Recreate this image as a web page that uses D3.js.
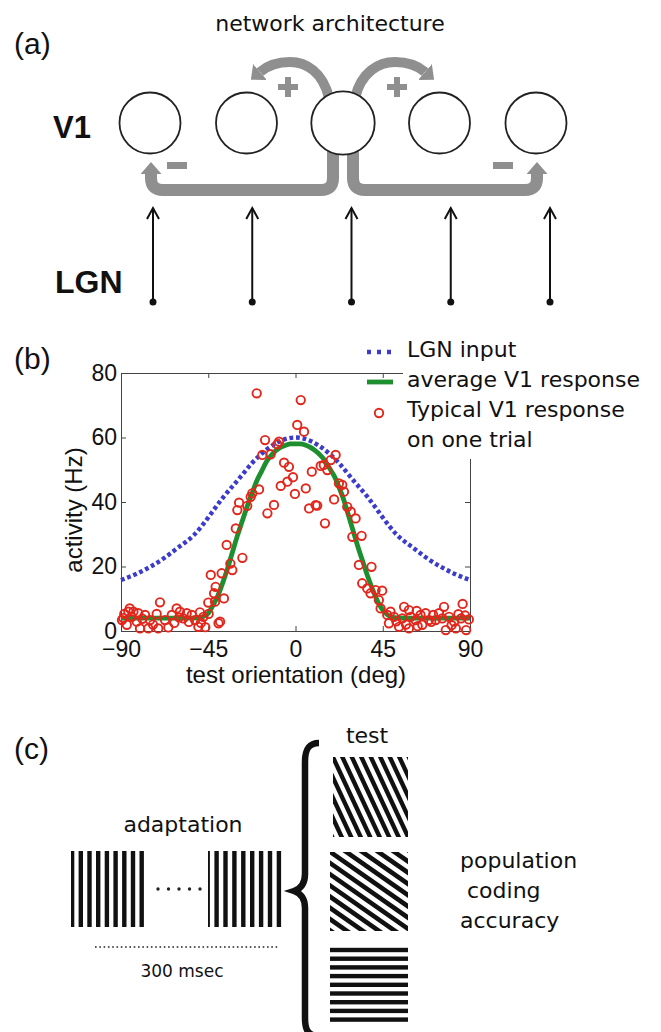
<!DOCTYPE html>
<meta charset="utf-8">
<title>V1 network, tuning and adaptation</title>
<style>
body { margin: 0; background: #fff; }
svg { display: block; }
.lbl { font-family: "DejaVu Sans", sans-serif; fill: #111; }
.big { font-family: "Liberation Sans", Arial, sans-serif; fill: #111; }
.ax text { font-family: "Liberation Sans", Arial, sans-serif; font-size: 23px; fill: #111; }
.ax path, .ax line { stroke: #444; stroke-width: 1; }
</style>
<body>
<script src="https://d3js.org/d3.v7.min.js"></script>
<script>

// ---- data ----
var neuronIds = [-2, -1, 0, 1, 2];

var xTicks = [-90, -45, 0, 45, 90];
var yTicks = [0, 20, 40, 60, 80];

// LGN input (blue dotted)
var lgnOrient = [-90, -82.5, -75, -67.5, -60, -52.5, -45, -37.5, -30, -22.5, -15, -7.5, 0,
                 7.5, 15, 22.5, 30, 37.5, 45, 52.5, 60, 67.5, 75, 82.5, 90];
var lgnRate   = [15.8, 17.6, 19.9, 22.7, 26.1, 29.7, 35.2, 41.3, 46.6, 52, 56.2, 59, 60,
                 59, 56.2, 52, 46.6, 41.3, 35.2, 29.7, 26.1, 22.7, 19.9, 17.6, 15.8];

// average V1 response (green)
var avgOrient = [-90, -75, -60, -52.5, -47.5, -45, -42.5, -40, -37.5, -35, -32.5, -30, -27.5, -25,
                 -22.5, -20, -17.5, -15, -12.5, -10, -7.5, -5, -2.5, 0, 2.5, 5, 7.5, 10, 12.5, 15,
                 17.5, 20, 22.5, 25, 27.5, 30, 32.5, 35, 37.5, 40, 42.5, 45, 47.5, 50, 55, 60, 75, 90];
var avgRate   = [4, 4, 4, 4, 4.5, 5.5, 8, 11, 15, 19.5, 24.5, 29.5, 34, 38.5,
                 42.5, 46.5, 49.5, 52.5, 54.5, 56, 57, 57.6, 58, 58, 58, 57.7, 57, 56, 54.7, 53,
                 50.5, 48, 44.5, 40.5, 35.5, 30.5, 25.5, 21, 16.5, 12.5, 9, 6.5, 5, 4.2, 4, 4, 4, 4];

// one trial (red circles)
var trialOrient = [-89.5, -88.3, -86.2, -83.6, -87, -84.5, -81.1, -81.9, -77.6, -80.2, -75.9, -75,
  -71.6, -69.9, -70.8, -67.3, -65.6, -63.8, -61.3, -59.6, -57.9, -56.1, -53.5, -51.8, -50.1, -47.5,
  -45, -41.5, -38.9, -85.5, -88.8, -79, -73.5, -62.5, -60, -55, -48.8, -46.5, -44.8, -49.3,
  -43.7, -38.1, -42, -41.2, -36.9, -39.7, -33.6, -35.5, -32.6, -27.4, -30.8, -30, -29.1, -24.9,
  -23.1, -22.3, -18.8, -14.5, -11.1,
  -20, 2.7, 0.9, 4.4, -15.7, -8.5, -9.4, -17.1, -12.8, -5.9, -3.4, -1.3, -4.2, -7.6, -0.3, 5.3,
  8.4, 13, 16.4, 18.2, 20.7, 7, 10.4, 11.2, 15.2, 19.9, 14.6,
  22.4, 24.1, 25, 26.7, 28.5, 31, 29.3, 34.1, 32.7, 39.2, 34.4, 37, 38.7, 41.3, 44.7, 43, 43.9,
  47.3, 49, 50.8, 48.2, 53.4, 55.1, 56, 58.5, 59.4, 58.5, 61.9, 64.5, 67.1, 68.8, 65.4, 72.3,
  76.6, 75.7, 77.5, 79.2, 81.8, 82.7, 86.2, 85.4, 88, 89.4,
  52, 57, 63, 70, 74, 84, 80.5, 87.5, 62.5, 71];
var trialRate = [3.4, 5.3, 6, 6, 1.9, 4.4, 5.5, 2.9, 5, 0.8, 0.8, 3.4,
  5.3, 8.9, 0.8, 3.4, 1.1, 5, 7, 6, 3.9, 5.5, 5, 3.4, 1.3, 4.4,
  8.8, 9.1, 2.9, 7, 4, 3.8, 2, 2.5, 4.2, 2.8, 2.5, 1.2, 5.3, 5.8,
  17.4, 17.9, 11.7, 13.7, 10.1, 2.4, 20.9, 26.7, 18.9, 22.7, 31.8, 37.5, 39.8, 38.8,
  41.6, 42.7, 43.9, 36.5, 39.1,
  73.7, 71.6, 63.9, 61.8, 59.2, 58.7, 57.9, 54.6, 54.8, 52.2, 50.9, 47.7, 46.3, 45, 42.5, 44.2,
  49.4, 51.2, 49.9, 53, 54.6, 38, 39, 38.9, 33.4, 40.8, 51.5,
  45.8, 45.3, 43.2, 38.5, 37, 34.9, 29.2, 29.5, 20.5, 19.9, 14.8, 13.2, 11.7, 12.7, 12.5, 9.6, 7,
  5, 6, 4.4, 2.4, 1.3, 3.9, 7.5, 6.5, 4.4, 0.8, 3.4, 5, 5.5, 3.4, 1.9, 3.4,
  7.5, 3.9, 0.3, 4.4, 2.9, 0.8, 8.4, 3.9, 0.3, 3.6,
  3, 2, 1.5, 2.8, 5.5, 5.2, 1.8, 4.8, 6.2, 5];

var legendLabels = ["LGN input", "average V1 response", ["Typical V1 response", "on one trial"]];
var outputLabel = ["population", " coding", "accuracy"];

// grating stripe tilt (deg) : adaptation then test
var adaptAngles = [0, 0];
var testAngles = [-25, -55, 90];

// ---- page ----
var width = 661, height = 1032;
var gray = "#8f8f8f";

var svg = d3.select("body").append("svg")
    .attr("width", width)
    .attr("height", height);
var defs = svg.append("defs");

defs.append("marker")
    .attr("id", "head")
    .attr("viewBox", "0 0 10 10")
    .attr("refX", 0).attr("refY", 5)
    .attr("markerWidth", 12).attr("markerHeight", 21)
    .attr("markerUnits", "userSpaceOnUse")
    .attr("preserveAspectRatio", "none")
    .attr("orient", "auto")
  .append("path")
    .attr("d", "M0,0L10,5L0,10Z")
    .attr("fill", gray);

// ===== (a) network architecture =====
svg.append("text").attr("class", "big").attr("x", 14).attr("y", 54)
    .style("font-size", "30px").text("(a)");
svg.append("text").attr("class", "lbl").attr("x", 330).attr("y", 31)
    .attr("text-anchor", "middle").style("font-size", "22px").text("network architecture");
svg.append("text").attr("class", "big").attr("x", 53).attr("y", 138)
    .style("font-size", "31px").style("font-weight", "bold").text("V1");
svg.append("text").attr("class", "big").attr("x", 55).attr("y", 293)
    .style("font-size", "32px").style("font-weight", "bold").text("LGN");

var nx = d3.scalePoint().domain(neuronIds).range([150, 536]);
var lx = d3.scalePoint().domain(neuronIds).range([153, 550]);
var cy = 123;

var arr = svg.append("g").attr("fill", "none").attr("stroke", gray)
    .attr("stroke-linejoin", "round");
// inhibition to far neighbours
arr.append("path").attr("stroke-width", 12).attr("marker-end", "url(#head)")
    .attr("d", "M333,150L333,178Q333,190 321,190L163,190Q151,190 151,178L151,174");
arr.append("path").attr("stroke-width", 12).attr("marker-end", "url(#head)")
    .attr("d", "M353,150L353,178Q353,190 365,190L525,190Q537,190 537,178L537,174");
// excitation to near neighbours
arr.append("path").attr("stroke-width", 10).attr("marker-end", "url(#head)")
    .attr("d", "M329,98C323,72 306,62 290,62C277,62 267,66 260,72");
arr.append("path").attr("stroke-width", 10).attr("marker-end", "url(#head)")
    .attr("d", "M355,98C361,72 379,62 395,62C408,62 418,66 425,72");

// plus / minus signs
[288, 397].forEach(function(px) {
  svg.append("rect").attr("x", px - 10).attr("y", 84).attr("width", 20).attr("height", 6).attr("fill", gray);
  svg.append("rect").attr("x", px - 3).attr("y", 77).attr("width", 6).attr("height", 20).attr("fill", gray);
});
[177, 503].forEach(function(px) {
  svg.append("rect").attr("x", px - 10).attr("y", 162).attr("width", 20).attr("height", 7).attr("fill", gray);
});

svg.append("g").selectAll("circle").data(neuronIds).enter().append("circle")
    .attr("cx", function(d) { return nx(d); })
    .attr("cy", cy)
    .attr("r", function(d) { return d === 0 ? 31.7 : 30.5; })
    .attr("fill", "#fff")
    .attr("stroke", "#222")
    .attr("stroke-width", 1.8);

var ff = svg.append("g").attr("stroke", "#111").attr("stroke-width", 2).attr("fill", "none");
neuronIds.forEach(function(d) {
  var px = lx(d);
  ff.append("line").attr("x1", px).attr("x2", px).attr("y1", 302).attr("y2", 208);
  ff.append("path").attr("d", "M" + (px - 6) + ",219L" + px + ",208L" + (px + 6) + ",219");
  svg.append("circle").attr("cx", px).attr("cy", 302).attr("r", 3.5).attr("fill", "#111");
});

// ===== (b) tuning curves =====
svg.append("text").attr("class", "big").attr("x", 14).attr("y", 369)
    .style("font-size", "30px").text("(b)");

var x = d3.scaleLinear().domain([-90, 90]).range([121, 470]);
var y = d3.scaleLinear().domain([0, 80]).range([631, 373]);

svg.append("g").attr("class", "ax").attr("transform", "translate(0,631)")
    .call(d3.axisBottom(x).tickValues(xTicks).tickSizeInner(-5).tickSizeOuter(0).tickPadding(10));
svg.append("g").attr("class", "ax").attr("transform", "translate(121,0)")
    .call(d3.axisLeft(y).tickValues(yTicks).tickSizeInner(-5).tickSizeOuter(0).tickPadding(4));
svg.append("g").attr("class", "ax").attr("transform", "translate(0,373)")
    .call(d3.axisTop(x).tickValues(xTicks).tickSizeInner(-5).tickSizeOuter(0).tickFormat(""));
svg.append("g").attr("class", "ax").attr("transform", "translate(470,0)")
    .call(d3.axisRight(y).tickValues(yTicks).tickSizeInner(-5).tickSizeOuter(0).tickFormat(""));

var lgnLine = d3.line().x(function(d, i) { return x(lgnOrient[i]); })
    .y(function(d) { return y(d); }).curve(d3.curveNatural);
var avgLine = d3.line().x(function(d, i) { return x(avgOrient[i]); })
    .y(function(d) { return y(d); }).curve(d3.curveMonotoneX);

svg.append("path").attr("d", lgnLine(lgnRate))
    .attr("fill", "none").attr("stroke", "#3b3bcc").attr("stroke-width", 4.4)
    .attr("stroke-dasharray", "3.8 2.8");
svg.append("path").attr("d", avgLine(avgRate))
    .attr("fill", "none").attr("stroke", "#1d8f2f").attr("stroke-width", 4.8);

svg.append("g").selectAll("circle").data(trialRate).enter().append("circle")
    .attr("cx", function(d, i) { return x(trialOrient[i]); })
    .attr("cy", function(d) { return y(d); })
    .attr("r", 4.2)
    .attr("fill", "none")
    .attr("stroke", "#e3261b")
    .attr("stroke-width", 1.9);

svg.append("text").attr("class", "big").attr("x", 296).attr("y", 683)
    .attr("text-anchor", "middle").style("font-size", "24px").text("test orientation (deg)");
svg.append("text").attr("class", "big")
    .attr("transform", "translate(82,510) rotate(-90)")
    .attr("text-anchor", "middle").style("font-size", "24px").text("activity (Hz)");

// legend
svg.append("rect").attr("x", 403).attr("y", 330).attr("width", 258).attr("height", 129).attr("fill", "#fff");
var lg = svg.append("g");
lg.append("line").attr("x1", 367).attr("x2", 393).attr("y1", 352).attr("y2", 352)
    .attr("stroke", "#3b3bcc").attr("stroke-width", 4.4).attr("stroke-dasharray", "4 6");
lg.append("line").attr("x1", 367).attr("x2", 393).attr("y1", 382).attr("y2", 382)
    .attr("stroke", "#1d8f2f").attr("stroke-width", 4.8);
lg.append("circle").attr("cx", 379).attr("cy", 413).attr("r", 4.2)
    .attr("fill", "none").attr("stroke", "#e3261b").attr("stroke-width", 1.9);
var ly = 357;
legendLabels.forEach(function(l) {
  [].concat(l).forEach(function(s) {
    lg.append("text").attr("class", "lbl").attr("x", 407).attr("y", ly)
        .style("font-size", "22px").text(s);
    ly += 30;
  });
});

// ===== (c) adaptation protocol =====
svg.append("text").attr("class", "big").attr("x", 14).attr("y", 759)
    .style("font-size", "30px").text("(c)");

var clipN = 0;
function grating(x0, y0, w, h, angle, period, thick, phase) {
  var id = "gclip" + (clipN++);
  defs.append("clipPath").attr("id", id).append("rect")
      .attr("x", x0).attr("y", y0).attr("width", w).attr("height", h);
  var R = Math.hypot(w, h);
  var g = svg.append("g").attr("clip-path", "url(#" + id + ")")
    .append("g").attr("transform", "translate(" + (x0 + w / 2) + "," + (y0 + h / 2) + ") rotate(" + angle + ")");
  g.selectAll("rect").data(d3.range(-Math.ceil(R / period), Math.ceil(R / period) + 1)).enter()
    .append("rect")
      .attr("x", function(k) { return phase + k * period - thick / 2; })
      .attr("y", -R)
      .attr("width", thick)
      .attr("height", 2 * R)
      .attr("fill", "#111");
}

grating(71, 851, 74, 76, adaptAngles[0], 8.7, 4.4, -1.1);
grating(208, 851, 74, 76, adaptAngles[1], 8.9, 4.4, -1.7);
grating(333, 757, 75, 80, testAngles[0], 8.6, 4.4, 0);
grating(330, 852, 78, 79, testAngles[1], 9.2, 4.6, 1);
grating(330, 947, 78, 79, testAngles[2], 8.7, 4.4, -1.7);

svg.append("text").attr("class", "lbl").attr("x", 183).attr("y", 832)
    .attr("text-anchor", "middle").style("font-size", "22px").text("adaptation");
svg.append("text").attr("class", "lbl").attr("x", 367).attr("y", 743)
    .attr("text-anchor", "middle").style("font-size", "22px").text("test");

svg.append("g").selectAll("circle").data(d3.range(5)).enter().append("circle")
    .attr("cx", function(i) { return 158 + i * 10.5; }).attr("cy", 889).attr("r", 1.7)
    .attr("fill", "#222");
svg.append("line").attr("x1", 95).attr("x2", 279).attr("y1", 947).attr("y2", 947)
    .attr("stroke", "#222").attr("stroke-width", 1.6).attr("stroke-dasharray", "1.6 2.7");
svg.append("text").attr("class", "lbl").attr("x", 182).attr("y", 977)
    .attr("text-anchor", "middle").style("font-size", "17px").text("300 msec");

svg.append("path")
    .attr("d", "M319,743C308,743 305,750 305,762L305,874C305,884 300,889 294,891C300,893 305,898 305,908L305,1018C305,1030 308,1036 319,1036")
    .attr("fill", "none").attr("stroke", "#111").attr("stroke-width", 6.5);

outputLabel.forEach(function(s, i) {
  svg.append("text").attr("class", "lbl").attr("x", 460).attr("y", 868 + i * 30)
      .style("font-size", "22px").style("white-space", "pre").text(s);
});

</script>
